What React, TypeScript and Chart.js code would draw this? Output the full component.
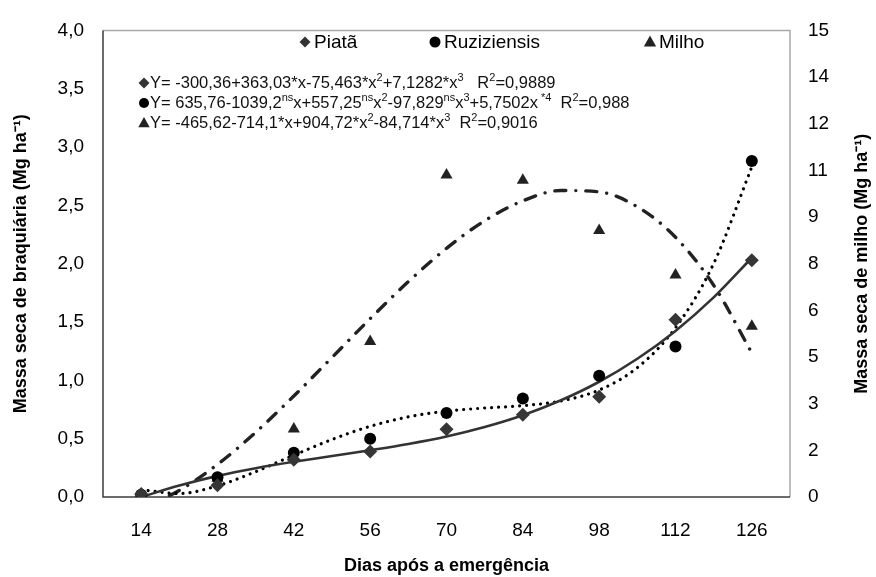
import React, { useEffect, useRef } from 'react';
import { Chart, registerables } from 'chart.js';

Chart.register(...registerables);

// ---- data ----
const days = [14, 28, 42, 56, 70, 84, 98, 112, 126];
const piata = [0.025, 0.1, 0.32, 0.39, 0.58, 0.705, 0.86, 1.52, 2.03];
const ruziziensis = [0.02, 0.17, 0.38, 0.5, 0.72, 0.845, 1.04, 1.29, 2.88];
const milho = [0.05, 0.6, 2.19, 5.0, 10.35, 10.18, 8.57, 7.14, 5.49];

const trendDays = [14, 21, 28, 35, 42, 49, 56, 63, 70, 77, 84, 91, 98, 105, 112, 119, 126];
const piataTrend = [0.0, 0.098, 0.181, 0.247, 0.302, 0.351, 0.401, 0.455, 0.519, 0.6, 0.701, 0.829, 0.988, 1.185, 1.424, 1.711, 2.051];
const ruziTrend = [0.062, 0.03, 0.096, 0.217, 0.358, 0.493, 0.606, 0.687, 0.736, 0.763, 0.783, 0.823, 0.917, 1.109, 1.451, 2.001, 2.83];
const milhoTrend = [-0.36, 0.213, 1.047, 2.08, 3.247, 4.486, 5.732, 6.922, 7.993, 8.88, 9.521, 9.853, 9.81, 9.33, 8.35, 6.806, 4.633];

const leftTicks = [0, 0.5, 1, 1.5, 2, 2.5, 3, 3.5, 4];
const rightTicks = [0, 1.5, 3, 4.5, 6, 7.5, 9, 10.5, 12, 13.5, 15];

const seriesNames = ['Piatã', 'Ruziziensis', 'Milho'];
const xTitle = 'Dias após a emergência';
const yLeftTitle = 'Massa seca de braquiária (Mg ha⁻¹)';
const yRightTitle = 'Massa seca de milho (Mg ha⁻¹)';

type Run = { t: string; sup?: boolean };
const equations: Run[][] = [
  [
    { t: 'Y= -300,36+363,03*x-75,463*x' }, { t: '2', sup: true },
    { t: '+7,1282*x' }, { t: '3', sup: true },
    { t: '   R' }, { t: '2', sup: true }, { t: '=0,9889' },
  ],
  [
    { t: 'Y= 635,76-1039,2' }, { t: 'ns', sup: true },
    { t: 'x+557,25' }, { t: 'ns', sup: true }, { t: 'x' }, { t: '2', sup: true },
    { t: '-97,829' }, { t: 'ns', sup: true }, { t: 'x' }, { t: '3', sup: true },
    { t: '+5,7502x' }, { t: ' *4', sup: true },
    { t: '  R' }, { t: '2', sup: true }, { t: '=0,988' },
  ],
  [
    { t: 'Y= -465,62-714,1*x+904,72*x' }, { t: '2', sup: true },
    { t: '-84,714*x' }, { t: '3', sup: true },
    { t: '  R' }, { t: '2', sup: true }, { t: '=0,9016' },
  ],
];

const FONT = '"Liberation Sans", Arial, sans-serif';

function drawShape(ctx: CanvasRenderingContext2D, type: string, x: number, y: number, r: number, color: string) {
  ctx.fillStyle = color;
  ctx.beginPath();
  if (type === 'diamond') {
    ctx.moveTo(x, y - r); ctx.lineTo(x + r, y); ctx.lineTo(x, y + r); ctx.lineTo(x - r, y); ctx.closePath();
  } else if (type === 'circle') {
    ctx.arc(x, y, r, 0, Math.PI * 2);
  } else {
    ctx.moveTo(x, y - r); ctx.lineTo(x + r * 0.95, y + r * 0.7); ctx.lineTo(x - r * 0.95, y + r * 0.7); ctx.closePath();
  }
  ctx.fill();
}

function drawRuns(ctx: CanvasRenderingContext2D, x: number, y: number, runs: Run[], size: number) {
  let cx = x;
  ctx.textBaseline = 'middle';
  ctx.textAlign = 'left';
  for (const r of runs) {
    if (r.sup) {
      ctx.font = `${Math.round(size * 0.66)}px ${FONT}`;
      ctx.fillText(r.t, cx, y - size * 0.33);
    } else {
      ctx.font = `${size}px ${FONT}`;
      ctx.fillText(r.t, cx, y);
    }
    cx += ctx.measureText(r.t).width;
  }
}

const decorPlugin = {
  id: 'decor',
  beforeDatasetsDraw(chart: any) {
    const ctx = chart.ctx as CanvasRenderingContext2D;
    const a = chart.chartArea;
    ctx.save();
    ctx.lineWidth = 1.5;
    ctx.strokeStyle = '#a8a8a8';
    ctx.beginPath();
    ctx.moveTo(a.left, a.top); ctx.lineTo(a.right, a.top); ctx.lineTo(a.right, a.bottom);
    ctx.stroke();
    ctx.strokeStyle = '#3c3c3c';
    ctx.beginPath();
    ctx.moveTo(a.left, a.top); ctx.lineTo(a.left, a.bottom); ctx.lineTo(a.right, a.bottom);
    ctx.stroke();
    ctx.restore();
  },
  afterDraw(chart: any) {
    const ctx = chart.ctx as CanvasRenderingContext2D;
    const a = chart.chartArea;
    ctx.save();
    ctx.fillStyle = '#000';
    // axis titles
    ctx.font = `bold 18px ${FONT}`;
    ctx.textAlign = 'center';
    ctx.textBaseline = 'middle';
    ctx.fillText(xTitle, (a.left + a.right) / 2, 566);
    ctx.save();
    ctx.translate(21, (a.top + a.bottom) / 2);
    ctx.rotate(-Math.PI / 2);
    ctx.fillText(yLeftTitle, 0, 0);
    ctx.restore();
    ctx.save();
    ctx.translate(862, (a.top + a.bottom) / 2);
    ctx.rotate(-Math.PI / 2);
    ctx.fillText(yRightTitle, 0, 0);
    ctx.restore();

    // legend
    const ly = 42;
    const legend = [
      { x: 305, type: 'diamond', r: 5.5, color: '#333' },
      { x: 435, type: 'circle', r: 5.5, color: '#000' },
      { x: 650, type: 'triangle', r: 6.5, color: '#222' },
    ];
    ctx.font = `19px ${FONT}`;
    ctx.textAlign = 'left';
    ctx.textBaseline = 'middle';
    legend.forEach((l, i) => {
      drawShape(ctx, l.type, l.x, ly, l.r, l.color);
      ctx.fillStyle = '#000';
      ctx.fillText(seriesNames[i], l.x + 9, ly + 1);
    });

    // equations
    const eqMarks = [
      { type: 'diamond', r: 5.5, color: '#333' },
      { type: 'circle', r: 5, color: '#000' },
      { type: 'triangle', r: 6, color: '#222' },
    ];
    equations.forEach((runs, i) => {
      const y = 83 + i * 20;
      drawShape(ctx, eqMarks[i].type, 144, y, eqMarks[i].r, eqMarks[i].color);
      ctx.fillStyle = '#111';
      drawRuns(ctx, 150, y, runs, 16.5);
    });
    ctx.restore();
  },
};

export default function App() {
  const ref = useRef<HTMLCanvasElement | null>(null);

  useEffect(() => {
    if (!ref.current) return;
    const pt = (xs: number[], ys: number[]) => xs.map((x, i) => ({ x, y: ys[i] }));
    const chart = new Chart(ref.current, {
      type: 'scatter',
      data: {
        datasets: [
          {
            label: 'Piatã trend', data: pt(trendDays, piataTrend), yAxisID: 'y', showLine: true,
            borderColor: '#333', borderWidth: 2.6, pointRadius: 0, cubicInterpolationMode: 'monotone', order: 5,
          },
          {
            label: 'Ruziziensis trend', data: pt(trendDays, ruziTrend), yAxisID: 'y', showLine: true,
            borderColor: '#000', borderWidth: 3.2, borderDash: [0.01, 7], borderCapStyle: 'round',
            pointRadius: 0, cubicInterpolationMode: 'monotone', order: 6,
          },
          {
            label: 'Milho trend', data: pt(trendDays, milhoTrend), yAxisID: 'y1', showLine: true,
            borderColor: '#222', borderWidth: 3.4, borderDash: [11, 10, 0.01, 10], borderCapStyle: 'round',
            pointRadius: 0, cubicInterpolationMode: 'monotone', order: 7,
          },
          {
            label: 'Milho', data: pt(days, milho), yAxisID: 'y1',
            pointStyle: 'triangle', pointRadius: 7, backgroundColor: '#222', borderColor: '#222', borderWidth: 0, order: 3,
          },
          {
            label: 'Ruziziensis', data: pt(days, ruziziensis), yAxisID: 'y',
            pointStyle: 'circle', pointRadius: 6, backgroundColor: '#000', borderColor: '#000', borderWidth: 0, order: 2,
          },
          {
            label: 'Piatã', data: pt(days, piata), yAxisID: 'y',
            pointStyle: 'rectRot', pointRadius: 7, backgroundColor: '#363636', borderColor: '#363636', borderWidth: 0, order: 1,
          },
        ],
      },
      options: {
        responsive: false,
        animation: false,
        devicePixelRatio: 1,
        layout: { padding: { top: 19, left: 0, right: 0, bottom: 0 } },
        plugins: { legend: { display: false }, tooltip: { enabled: false } },
        scales: {
          x: {
            type: 'linear', min: 7, max: 133,
            afterBuildTicks: (s: any) => { s.ticks = days.map((v) => ({ value: v })); },
            afterFit: (s: any) => { s.height = 80; },
            grid: { display: false, drawTicks: false },
            border: { display: false },
            ticks: { color: '#000', font: { family: FONT, size: 19 }, padding: 22, maxRotation: 0, autoSkip: false },
          },
          y: {
            position: 'left', min: 0, max: 4,
            afterBuildTicks: (s: any) => { s.ticks = leftTicks.map((v) => ({ value: v })); },
            afterFit: (s: any) => { s.width = 103; },
            grid: { display: false, drawTicks: false },
            border: { display: false },
            ticks: {
              color: '#000', font: { family: FONT, size: 19 }, padding: 19,
              callback: (v: any) => Number(v).toFixed(1).replace('.', ','),
            },
          },
          y1: {
            position: 'right', min: 0, max: 15,
            afterBuildTicks: (s: any) => { s.ticks = rightTicks.map((v) => ({ value: v })); },
            afterFit: (s: any) => { s.width = 86; },
            grid: { display: false, drawTicks: false },
            border: { display: false },
            ticks: {
              color: '#000', font: { family: FONT, size: 19 }, padding: 18,
              callback: (v: any) => String(Math.round(Number(v))),
            },
          },
        },
      },
      plugins: [decorPlugin],
    } as any);
    return () => chart.destroy();
  }, []);

  return (
    <div style={{ position: 'absolute', left: 0, top: 0, width: 876, height: 577, background: '#fff' }}>
      <canvas ref={ref} width={876} height={577} style={{ display: 'block' }} />
    </div>
  );
}
